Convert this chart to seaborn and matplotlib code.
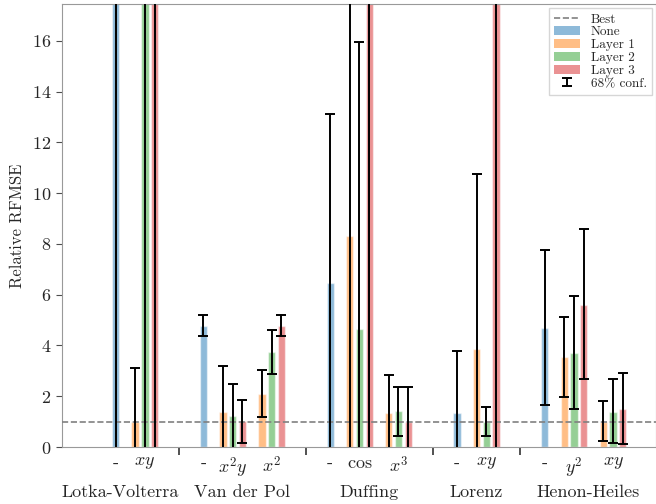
import numpy as np
import pandas as pd
import matplotlib
matplotlib.use("Agg")
import matplotlib.pyplot as plt
from matplotlib.container import ErrorbarContainer
from matplotlib.legend_handler import HandlerErrorbar
from matplotlib.lines import Line2D
from matplotlib.patches import Patch
import seaborn as sns

# ── data ─────────────────────────────────────────────────────────────────
systems = ["Lotka-Volterra", "Van der Pol", "Duffing", "Lorenz", "Henon-Heiles"]
terms = [["$xy$"], ["$x^2y$", "$x^2$"], ["$\\cos$", "$x^3$"], ["$xy$"], ["$y^2$", "$xy$"]]
layers = ["None", "Layer 1", "Layer 2", "Layer 3"]

# "None" (one bar per system); values far above the axis are off-scale bars
none_mean = [40.0, 4.77, 6.48, 1.33, 4.69]
none_lo = [-0.3, 4.37, -0.3, -0.3, 1.65]
none_hi = [60.0, 5.20, 13.10, 3.80, 7.75]

# one entry per term group, in order of `terms`
layer1_mean = [1.00, 1.38, 2.09, 8.32, 1.35, 3.86, 3.55, 1.00]
layer1_lo = [-0.3, -0.3, 1.18, -0.3, -0.3, -0.3, 1.98, 0.24]
layer1_hi = [3.12, 3.19, 3.03, 30.0, 2.82, 10.76, 5.14, 1.80]

layer2_mean = [40.0, 1.22, 3.74, 4.66, 1.42, 1.00, 3.72, 1.38]
layer2_lo = [-0.3, -0.3, 2.89, -0.3, 0.45, 0.45, 1.50, 0.15]
layer2_hi = [60.0, 2.47, 4.61, 15.97, 2.38, 1.58, 5.96, 2.67]

layer3_mean = [40.0, 1.01, 4.77, 40.0, 1.00, 40.0, 5.60, 1.51]
layer3_lo = [-0.3, 0.16, 4.37, -0.3, -0.3, -0.3, 2.67, 0.12]
layer3_hi = [60.0, 1.86, 5.20, 60.0, 2.38, 60.0, 8.59, 2.93]


def main():
    sns.set_style("ticks")
    plt.rcParams["font.family"] = ["cmr10", "DejaVu Serif"]
    plt.rcParams["mathtext.fontset"] = "cm"
    plt.rcParams["axes.formatter.use_mathtext"] = True

    lmeans = [layer1_mean, layer2_mean, layer3_mean]
    llos = [layer1_lo, layer2_lo, layer3_lo]
    lhis = [layer1_hi, layer2_hi, layer3_hi]

    # ── slot layout: None bar, gap, 3 layer bars per term, gap between systems
    rows, centers, clabels, seps = [], [], [], []
    pos, k = 0, 0
    for s, sys_terms in enumerate(systems):
        rows.append((pos, none_mean[s], none_lo[s], none_hi[s], "None"))
        centers.append(pos)
        clabels.append("-")
        pos += 2
        for t in terms[s]:
            for j in range(3):
                rows.append((pos + j, lmeans[j][k], llos[j][k], lhis[j][k], layers[j + 1]))
            centers.append(pos + 1)
            clabels.append(t)
            pos += 4
            k += 1
        if s < len(systems) - 1:
            seps.append(pos + 0.5)
        pos += 3
    df = pd.DataFrame(rows, columns=["x", "value", "lo", "hi", "layer"])

    pal = dict(zip(layers, sns.color_palette("tab10", 4)))
    xlim = (-5.5, 55.4)

    fig = plt.figure(figsize=(6.56, 5.04), dpi=100)
    ax = fig.add_axes([0.0945, 0.113, 0.9055, 0.879])

    sns.barplot(data=df, x="x", y="value", hue="layer", hue_order=layers,
                palette=pal, native_scale=True, dodge=False, width=0.75,
                alpha=0.5, saturation=1, errorbar=None, legend=False, ax=ax)
    ax.axhline(1, color="gray", ls="--", lw=1.2, zorder=4)
    eb = ax.errorbar(df["x"], df["value"],
                     yerr=[df["value"] - df["lo"], df["hi"] - df["value"]],
                     fmt="none", ecolor="black", elinewidth=1.4,
                     capsize=3.6, capthick=1.4, zorder=5)

    ax.set_ylim(0, 17.45)
    ax.set_xlim(*xlim)
    ax.set_yticks(np.arange(0, 17, 2))
    ax.tick_params(axis="y", labelsize=13, length=4, color="0.3")
    ax.set_ylabel("Relative RFMSE", fontsize=12, labelpad=5)
    ax.set_xlabel("")

    ax.set_xticks(seps)
    ax.set_xticklabels([])
    ax.tick_params(axis="x", which="major", length=5.5, width=1.2, color="0.2")
    ax.set_xticks(centers, clabels, minor=True)
    ax.tick_params(axis="x", which="minor", length=0, pad=6, labelsize=13)
    bounds = [xlim[0]] + seps + [xlim[1]]
    for a, b, name in zip(bounds[:-1], bounds[1:], systems):
        ax.text((a + b) / 2, -0.102, name, transform=ax.get_xaxis_transform(),
                ha="center", va="center", fontsize=13)

    for sp in ax.spines.values():
        sp.set_color("0.6")

    handles = [Line2D([], [], color="gray", ls="--", lw=1.2)]
    handles += [Patch(facecolor=pal[l], alpha=0.5, lw=0) for l in layers]
    handles.append(eb)
    ax.legend(handles, ["Best"] + layers + ["68% conf."], loc="upper right",
              fontsize=9.5, borderaxespad=0.3, handlelength=2.0,
              labelspacing=0.05, fancybox=False, edgecolor="0.8",
              handler_map={ErrorbarContainer: HandlerErrorbar(yerr_size=0.3)})

    fig.savefig("out.png", dpi=100)
    plt.close(fig)


if __name__ == "__main__":
    main()
